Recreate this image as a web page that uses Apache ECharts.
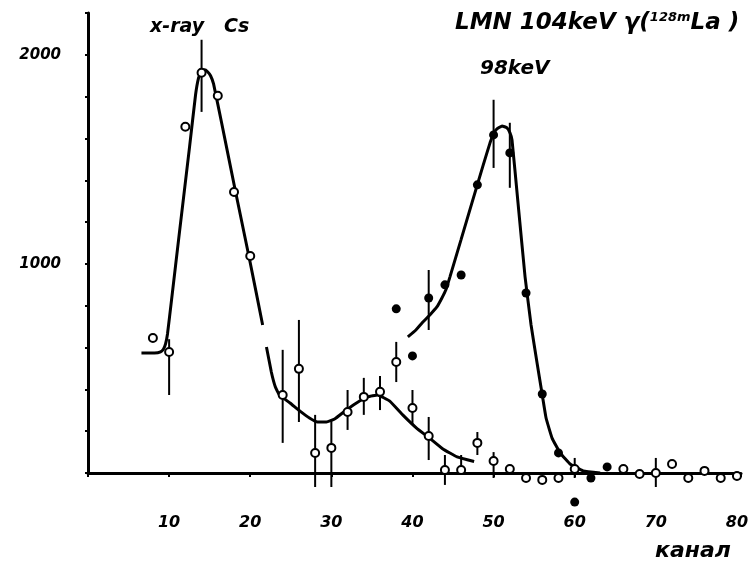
<!DOCTYPE html>
<html><head><meta charset="utf-8">
<script src="https://cdn.jsdelivr.net/npm/echarts@6/dist/echarts.min.js"></script>
<style>html,body{margin:0;padding:0;background:#fff}#c{width:754px;height:567px}</style>
</head><body><div id="c"></div>
<script>
// Open circles (x-ray Cs + background)
const openX = [8,10,12,14,16,18,20,24,26,28,30,32,34,36,38,40,42,44,46,48,50,52,54,56,58,60,66,68,70,72,74,76,78,80];
const openY = [646,579,1656,1914,1804,1344,1038,373,498,96,120,292,364,388,531,311,177,14,14,144,57,19,-24,-33,-24,19,19,-5,0,43,-24,10,-24,-14];
// Filled circles (98 keV line)
const fillX = [38,40,42,44,46,48,50,52,54,56,58,60,62,64];
const fillY = [785,560,837,900,947,1378,1617,1531,861,378,96,-139,-24,29];
// Error bars [channel, low, high]
const errOpen = [[10,373,640],[14,1727,2072],[24,144,589],[26,244,732],[28,-67,278],[30,-67,254],[32,206,397],[34,278,455],[36,301,464],[38,435,627],[40,230,397],[42,62,268],[44,-57,86],[46,5,86],[48,86,196],[50,-24,100],[60,-24,72],[70,-67,72]];
const errFill = [[42,684,971],[50,1459,1785],[52,1364,1675]];
// Fitted curves
const curveCsX = [6.59,8.2,8.94,9.31,9.56,9.8,10.3,11.28,12.52,13.26,13.63,14.0,14.37,14.74,15.11,15.48,16.47,18.07,19.93,21.53];
const curveCsY = [574,574,579,593,617,665,828,1153,1560,1809,1890,1923,1928,1919,1900,1861,1675,1368,1019,708];
const curveBgX = [22.0,22.6,23.1,23.6,24.9,26.1,27.3,28.3,29.4,30.4,31.7,33.1,34.5,35.7,37.2,38.8,40.5,42.1,43.75,45.5,47.6];
const curveBgY = [603,483,411,373,335,297,263,244,244,258,297,335,364,373,344,278,215,167,115,77,55];
const curve98X = [39.43,40.42,41.28,42.15,43.01,43.63,44.12,44.62,45.98,47.33,48.69,49.56,50.05,50.42,51.04,51.65,52.02,52.27,53.01,53.88,54.62,55.36,55.98,56.47,57.21,58.2,59.43,61.04,63.14];
const curve98Y = [651,684,722,756,794,837,876,938,1115,1292,1469,1579,1627,1646,1660,1651,1627,1593,1292,938,708,526,378,263,167,96,43,10,0];
const xTickLabels = [10,20,30,40,50,60,70,80];
const yTickLabels = [1000,2000];

const zip = (a,b)=>a.map((v,i)=>[v,b[i]]);
const FONT = '"DejaVu Sans"';
const chart = echarts.init(document.getElementById('c'));
const errSeries = (data, name) => ({
  type:'custom', name, data, clip:false, z:3,
  renderItem:(params, api)=>{
    const p1 = api.coord([api.value(0), api.value(1)]);
    const p2 = api.coord([api.value(0), api.value(2)]);
    return {type:'line', shape:{x1:p1[0],y1:p1[1],x2:p2[0],y2:p2[1]}, style:{stroke:'#000', lineWidth:2}};
  },
  encode:{x:0,y:[1,2]}
});
const lineSeries = (x,y) => ({type:'line', data:zip(x,y), smooth:0.1, showSymbol:false, symbol:'none',
  lineStyle:{color:'#000', width:3}, z:2, clip:false});
chart.setOption({
  animation:false,
  backgroundColor:'#fff',
  grid:{left:88, right:13, top:13, bottom:94},
  xAxis:{type:'value', min:0, max:80.5, interval:10,
    axisLine:{onZero:false, lineStyle:{color:'#000', width:3}},
    axisTick:{length:4, lineStyle:{color:'#000', width:2}},
    splitLine:{show:false},
    axisLabel:{margin:42, color:'#000', fontFamily:FONT, fontWeight:'bold', fontStyle:'italic', fontSize:16,
      formatter:v=> xTickLabels.includes(v) ? String(v) : ''}
  },
  yAxis:{type:'value', min:0, max:2200, interval:200,
    axisLine:{lineStyle:{color:'#000', width:3}},
    axisTick:{length:3, lineStyle:{color:'#000', width:2}},
    splitLine:{show:false},
    axisLabel:{margin:27, color:'#000', fontFamily:FONT, fontWeight:'bold', fontStyle:'italic', fontSize:15,
      padding:[0,0,9,0],
      formatter:v=> yTickLabels.includes(v) ? String(v) : ''}
  },
  graphic:[
    {type:'text', left:150, top:18, style:{text:'x-ray   Cs', fill:'#000', font:'italic bold 19px '+FONT}},
    {type:'text', left:455, top:11, style:{
      rich:{a:{fill:'#000', font:'italic bold 23px '+FONT}, s:{fill:'#000', font:'italic bold 13px '+FONT, verticalAlign:'top', padding:[0,0,12,0]}},
      text:'{a|LMN 104keV γ(}{s|128m}{a|La )}'}},
    {type:'text', left:480, top:59, style:{text:'98keV', fill:'#000', font:'italic bold 20px '+FONT}},
    {type:'text', left:655, top:540, style:{text:'канал', fill:'#000', font:'italic bold 22px '+FONT}}
  ],
  series:[
    lineSeries(curveCsX, curveCsY),
    lineSeries(curveBgX, curveBgY),
    lineSeries(curve98X, curve98Y),
    errSeries(errOpen,'errOpen'),
    errSeries(errFill,'errFill'),
    {type:'scatter', data:zip(openX, openY), symbol:'circle', symbolSize:8, clip:false, z:5,
      itemStyle:{color:'#fff', borderColor:'#000', borderWidth:2, opacity:1}},
    {type:'scatter', data:zip(fillX, fillY), symbol:'circle', symbolSize:9, clip:false, z:5,
      itemStyle:{color:'#000', opacity:1}}
  ]
});
</script></body></html>
